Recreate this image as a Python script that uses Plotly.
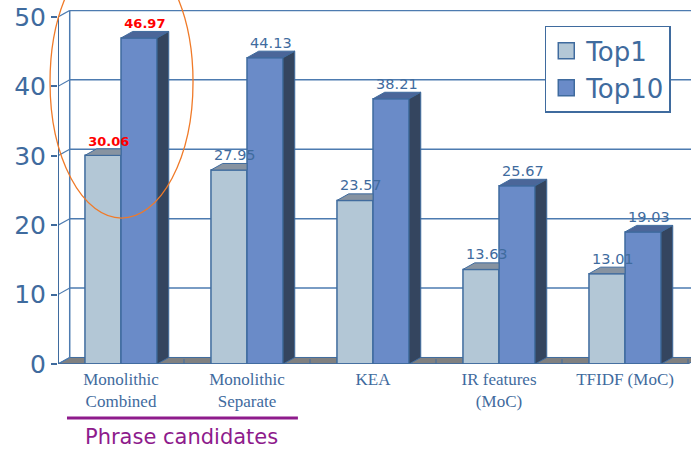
import plotly.graph_objects as go

# ---- data ----
categories = ["Monolithic<br>Combined", "Monolithic<br>Separate", "KEA",
              "IR features<br>(MoC)", "TFIDF (MoC)"]
top1 = [30.06, 27.95, 23.57, 13.63, 13.01]
top10 = [46.97, 44.13, 38.21, 25.67, 19.03]
y_ticks = [0, 10, 20, 30, 40, 50]
highlight = [True, False, False, False, False]
series_names = ["Top1", "Top10"]

# ---- style ----
BLUE = "#3f6b9e"
GRID = "#4d7bb0"
C_TOP1 = "#b3c7d6"
C_TOP1_CAP = "#8793a1"
C_TOP10 = "#6a8bc8"
C_TOP10_CAP = "#4b6699"
C_TOP10_SIDE = "#34455f"
FLOOR = "#808080"
SANS = "DejaVu Sans, Arial"
W = 0.286     # bar width (category units)
DX = 0.093    # depth offset x (category units)
DY = 0.94     # depth offset y (value units)
XMIN, XMAX = -0.5, 4.5238
YMAX = 51

xs = list(range(len(categories)))


def polys(shapes):
    px, py = [], []
    for pts in shapes:
        for (a, b) in pts:
            px.append(a)
            py.append(b)
        px.append(pts[0][0])
        py.append(pts[0][1])
        px.append(None)
        py.append(None)
    return px, py


fig = go.Figure()

fig.add_trace(go.Bar(x=xs, y=top1, width=W, offset=-W, name=series_names[0],
                     marker=dict(color=C_TOP1, line=dict(color=BLUE, width=1.5)),
                     showlegend=False, hoverinfo="skip"))
fig.add_trace(go.Bar(x=xs, y=top10, width=W, offset=0, name=series_names[1],
                     marker=dict(color=C_TOP10, line=dict(color=BLUE, width=1.5)),
                     showlegend=False, hoverinfo="skip"))

# 3D faces
t1x, t1y = polys([[(i - W, v), (i, v), (i, v + DY), (i - W + DX, v + DY)]
                  for i, v in zip(xs, top1)])
fig.add_trace(go.Scatter(x=t1x, y=t1y, mode="lines", fill="toself",
                         fillcolor=C_TOP1_CAP, line=dict(color=BLUE, width=1),
                         showlegend=False, hoverinfo="skip"))
t10x, t10y = polys([[(i, v), (i + W, v), (i + W + DX, v + DY), (i + DX, v + DY)]
                    for i, v in zip(xs, top10)])
fig.add_trace(go.Scatter(x=t10x, y=t10y, mode="lines", fill="toself",
                         fillcolor=C_TOP10_CAP, line=dict(color=BLUE, width=1),
                         showlegend=False, hoverinfo="skip"))
s10x, s10y = polys([[(i + W, 0), (i + W, v), (i + W + DX, v + DY), (i + W + DX, DY)]
                    for i, v in zip(xs, top10)])
fig.add_trace(go.Scatter(x=s10x, y=s10y, mode="lines", fill="toself",
                         fillcolor=C_TOP10_SIDE, line=dict(color=BLUE, width=1),
                         showlegend=False, hoverinfo="skip"))

# value labels
for vals, off in ((top1, -W / 2), (top10, W / 2)):
    fig.add_trace(go.Scatter(
        x=[i + off + DX / 2 for i in xs], y=[v + DY for v in vals],
        mode="text",
        text=[f"<b>{v:.2f}</b>" if h else f"{v:.2f}" for v, h in zip(vals, highlight)],
        textposition="top center",
        textfont=dict(family=SANS, size=[13 if h else 14.5 for h in highlight],
                      color=["#ff0000" if h else BLUE for h in highlight]),
        showlegend=False, hoverinfo="skip"))

# legend entries
for name, col in zip(series_names, (C_TOP1, C_TOP10)):
    fig.add_trace(go.Scatter(x=[None], y=[None], mode="markers", name=name,
                             legendgroup=name,
                             marker=dict(symbol="square", size=16, color=col,
                                         line=dict(color=BLUE, width=1.5))))

shapes = []
# floor
shapes.append(dict(type="path", xref="x", yref="y", layer="below",
                   path=f"M {XMIN},0 L 4.5,0 L {4.5 + DX},{DY} L {XMIN + DX},{DY} Z",
                   fillcolor=FLOOR, line=dict(color=BLUE, width=1)))
# back wall gridlines
for v in y_ticks[1:]:
    shapes.append(dict(type="line", xref="x", yref="y", layer="below",
                       x0=XMIN + DX, x1=5.5, y0=v + DY, y1=v + DY,
                       line=dict(color=GRID, width=1.5)))
# back wall left edge
shapes.append(dict(type="line", xref="x", yref="y", layer="below",
                   x0=XMIN + DX, x1=XMIN + DX, y0=DY, y1=y_ticks[-1] + DY,
                   line=dict(color=GRID, width=1.5)))
# side-wall connectors
for v in y_ticks:
    shapes.append(dict(type="line", xref="x", yref="y", layer="below",
                       x0=XMIN, x1=XMIN + DX, y0=v, y1=v + DY,
                       line=dict(color=GRID, width=1.2)))
# front axis line
shapes.append(dict(type="line", xref="x", yref="y", layer="below",
                   x0=XMIN, x1=XMIN, y0=0, y1=y_ticks[-1],
                   line=dict(color=BLUE, width=2)))
# front floor line
shapes.append(dict(type="line", xref="x", yref="y", layer="above",
                   x0=XMIN, x1=4.5, y0=0, y1=0, line=dict(color=BLUE, width=1.5)))
# floor category ticks
for b in [0.5, 1.5, 2.5, 3.5, 4.5]:
    shapes.append(dict(type="line", xref="x", yref="y", layer="below",
                       x0=b, x1=b, y0=0, y1=DY * 0.75,
                       line=dict(color=BLUE, width=1)))
# highlight ellipse
shapes.append(dict(type="circle", xref="paper", yref="paper", layer="above",
                   x0=-0.0126, x1=0.2133, y0=0.412, y1=1.181,
                   line=dict(color="#f07a28", width=1.3)))
# phrase candidates underline
shapes.append(dict(type="line", xref="paper", yref="paper",
                   x0=0.0142, x1=0.379, y0=-0.1525, y1=-0.1525,
                   line=dict(color="#8e1b8c", width=3)))

fig.update_layout(
    width=691, height=451,
    margin=dict(l=58, r=0, t=10, b=87),
    paper_bgcolor="white", plot_bgcolor="white",
    barmode="overlay",
    shapes=shapes,
    xaxis=dict(range=[XMIN, XMAX], tickvals=xs, ticktext=categories,
               showgrid=False, zeroline=False, showline=False, ticks="",
               ticklabelstandoff=3,
               tickfont=dict(family="Liberation Serif, Times New Roman", size=17, color=BLUE)),
    yaxis=dict(range=[0, YMAX], tickvals=y_ticks, showgrid=False, zeroline=False,
               showline=False, ticks="outside", ticklen=6, tickwidth=1.5, tickcolor=BLUE,
               tickfont=dict(family=SANS, size=25, color=BLUE)),
    legend=dict(x=0.769, y=0.955, xanchor="left", yanchor="top",
                bgcolor="white", bordercolor=BLUE, borderwidth=1.5,
                font=dict(family=SANS, size=26, color=BLUE),
                tracegroupgap=0),
    annotations=[dict(text="Phrase candidates", xref="paper", yref="paper",
                      x=0.195, y=-0.206, xanchor="center", yanchor="middle",
                      showarrow=False,
                      font=dict(family=SANS, size=21, color="#8e1b8c"))],
)

fig.write_html("out.html")
